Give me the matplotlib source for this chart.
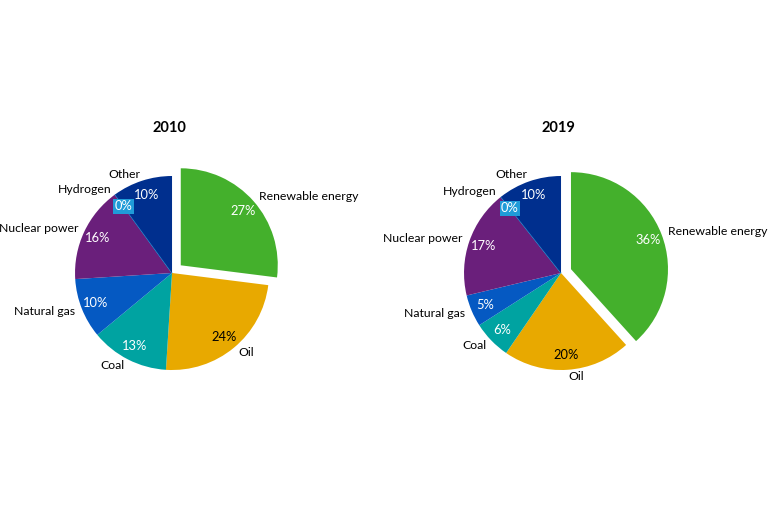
import matplotlib.pyplot as plt

plt.rcParams['font.family'] = ['Lato', 'DejaVu Sans']

categories = ['Renewable energy', 'Oil', 'Coal', 'Natural gas',
              'Nuclear power', 'Hydrogen', 'Other']
values_2010 = [27, 24, 13, 10, 16, 0, 10]
values_2019 = [36, 20, 6, 5, 17, 0, 10]
years = ['2010', '2019']

colors = ['#44b02c', '#e8a900', '#00a3a1', '#0559c2', '#6a1f7b', '#1f9bd8', '#002f8e']
pct_colors = ['white', 'black', 'white', 'white', 'white', 'white', 'white']

fig = plt.figure(figsize=(7.68, 5.11), dpi=100)
lefts = [0.0345, 0.541]

for left, year, vals, expl in zip(lefts, years, [values_2010, values_2019], [0.12, 0.11]):
    ax = fig.add_axes([left, 0.181, 0.379, 0.5695])
    explode = [expl] + [0] * (len(vals) - 1)
    wedges, texts, autotexts = ax.pie(
        vals, labels=categories, colors=colors, explode=explode,
        startangle=90, counterclock=False, autopct='%d%%',
        pctdistance=0.85, labeldistance=1.07,
        wedgeprops=dict(linewidth=0),
        textprops=dict(fontsize=8.8))
    wedges[5].set_edgecolor(colors[5])
    wedges[5].set_linewidth(0.8)
    for t, v, c in zip(autotexts, vals, pct_colors):
        t.set_text(f'{v}%')
        t.set_color(c)
        t.set_fontsize(9.3)
    autotexts[5].set_bbox(dict(boxstyle='square,pad=0.1', fc=colors[5], ec='none'))
    ax.set_xlim(-1.5, 1.5)
    ax.set_ylim(-1.5, 1.5)
    ax.set_aspect('equal')
    ax.text(-0.03, 1.49, year, ha='center', va='center', fontsize=10.5, fontweight='bold')

fig.savefig('out.png', dpi=100)
